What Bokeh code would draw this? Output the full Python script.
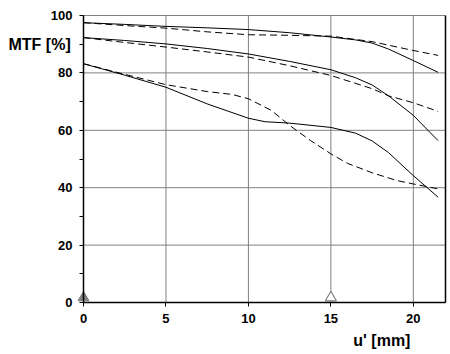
from bokeh.plotting import figure
from bokeh.models import Range1d, FixedTicker, Label, LinearAxis
from bokeh.embed import file_html
from bokeh.resources import INLINE

# Data (u' in mm, MTF in %)
top_solid_x = [0, 2.5, 5, 7.5, 10, 12.5, 15, 16.5, 17.5, 18.5, 20, 21.5]
top_solid_y = [97.5, 96.9, 96.2, 95.7, 95.1, 94.0, 92.5, 91.5, 90.4, 88.3, 84.3, 80.2]
top_dash_x = [0, 2.5, 5, 7.5, 10, 12.5, 15, 17.5, 20, 21.5]
top_dash_y = [97.5, 96.5, 95.6, 94.3, 93.3, 93.1, 92.8, 90.9, 87.8, 86.1]
mid_solid_x = [0, 2.5, 5, 7.5, 10, 12.5, 15, 16.5, 17.5, 18.5, 20, 21.5]
mid_solid_y = [92.3, 91.3, 90.1, 88.5, 86.6, 84.0, 81.1, 78.3, 75.8, 72.0, 65.2, 56.4]
mid_dash_x = [0, 2.5, 5, 7.5, 10, 12.5, 15, 17.5, 18.5, 20, 21.5]
mid_dash_y = [92.3, 90.6, 89.0, 87.3, 85.5, 82.5, 79.1, 74.5, 72.0, 69.6, 66.6]
low_solid_x = [0, 2.5, 5, 7.5, 10, 11, 12.5, 15, 16.5, 17.5, 18.5, 20, 21.5]
low_solid_y = [83.2, 79.2, 75.0, 69.2, 64.2, 63.0, 62.5, 61.0, 59.0, 56.3, 52.2, 44.2, 36.7]
low_dash_x = [0, 2.5, 5, 7.5, 9, 10, 11.4, 12.5, 13.75, 15, 16, 17.5, 19, 20, 21.5]
low_dash_y = [83.2, 79.5, 75.9, 73.5, 72.5, 71.0, 66.9, 61.7, 56.5, 51.8, 48.5, 45.2, 42.5, 41.3, 39.6]
marker_filled_x = [0]
marker_open_x = [15]
marker_y = [1.7]

x_ticks = [0, 5, 10, 15, 20]
y_ticks = [0, 20, 40, 60, 80, 100]
y_minor_ticks = [10, 30, 50, 70, 90]

X_MIN, X_MAX = 0, 21.95
Y_MIN, Y_MAX = 0, 100

FONT = "Liberation Sans"
W, H = 450, 354
LEFT_PX, BOTTOM_PX, RIGHT_PX, TOP_PX = 83, 52, 5, 15
kx = (W - LEFT_PX - RIGHT_PX) / (X_MAX - X_MIN)
ky = (H - TOP_PX - BOTTOM_PX) / (Y_MAX - Y_MIN)

p = figure(width=W, height=H, output_backend="svg", toolbar_location=None,
           x_range=Range1d(X_MIN - LEFT_PX / kx, X_MAX + RIGHT_PX / kx),
           y_range=Range1d(Y_MIN - BOTTOM_PX / ky, Y_MAX + TOP_PX / ky),
           min_border=0, outline_line_color=None,
           x_axis_location=None, y_axis_location=None)
p.background_fill_color = "white"
p.border_fill_color = "white"
p.grid.visible = False

# grid lines, limited to the plotting box
GRID = "#808080"
p.segment(x0=x_ticks, y0=[Y_MIN] * len(x_ticks), x1=x_ticks, y1=[Y_MAX] * len(x_ticks),
          line_color=GRID, line_width=1)
p.segment(x0=[X_MIN] * len(y_ticks), y0=y_ticks, x1=[X_MAX] * len(y_ticks), y1=y_ticks,
          line_color=GRID, line_width=1)


def style_axis(ax):
    ax.axis_line_color = "black"
    ax.axis_line_width = 1.5
    ax.major_tick_line_color = "black"
    ax.minor_tick_line_color = "black"
    ax.major_tick_in = 0
    ax.major_tick_out = 4
    ax.minor_tick_in = 0
    ax.minor_tick_out = 4
    ax.major_label_text_font = FONT
    ax.major_label_text_font_style = "bold"
    ax.major_label_text_font_size = "13px"
    ax.major_label_text_color = "black"
    ax.major_label_standoff = 7


xaxis = LinearAxis(ticker=FixedTicker(ticks=x_ticks),
                   fixed_location=Y_MIN, bounds=(X_MIN, X_MAX))
style_axis(xaxis)
yaxis = LinearAxis(ticker=FixedTicker(ticks=y_ticks, minor_ticks=y_minor_ticks),
                   fixed_location=X_MIN, bounds=(Y_MIN, Y_MAX))
style_axis(yaxis)
rborder = LinearAxis(ticker=FixedTicker(ticks=[]), fixed_location=X_MAX,
                     bounds=(Y_MIN, Y_MAX), axis_line_color="black", axis_line_width=1.5,
                     major_tick_line_color=None, minor_tick_line_color=None,
                     major_label_text_font_size="0px")
p.add_layout(xaxis, "below")
p.add_layout(yaxis, "left")
p.add_layout(rborder, "right")

lw = 1.0
p.line(top_solid_x, top_solid_y, line_color="black", line_width=lw)
p.line(top_dash_x, top_dash_y, line_color="black", line_width=lw, line_dash="7 4")
p.line(mid_solid_x, mid_solid_y, line_color="black", line_width=lw)
p.line(mid_dash_x, mid_dash_y, line_color="black", line_width=lw, line_dash="7 4")
p.line(low_solid_x, low_solid_y, line_color="black", line_width=lw)
p.line(low_dash_x, low_dash_y, line_color="black", line_width=lw, line_dash="7 4")

p.scatter(marker_filled_x, marker_y, marker="triangle", size=11,
          fill_color="#808080", line_color="#808080")
p.scatter(marker_open_x, marker_y, marker="triangle", size=11,
          fill_color="white", line_color="#808080", line_width=1.2)

p.add_layout(Label(x=X_MIN - 75 / kx, y=90, text="MTF [%]",
                   text_font=FONT, text_font_style="bold", text_font_size="16px",
                   text_color="black", text_baseline="middle", text_align="left"))
p.add_layout(Label(x=16.36, y=Y_MIN - 38 / ky, text="u' [mm]",
                   text_font=FONT, text_font_style="bold", text_font_size="16px",
                   text_color="black", text_baseline="middle", text_align="left"))

open("out.html", "w").write(file_html(p, INLINE))
